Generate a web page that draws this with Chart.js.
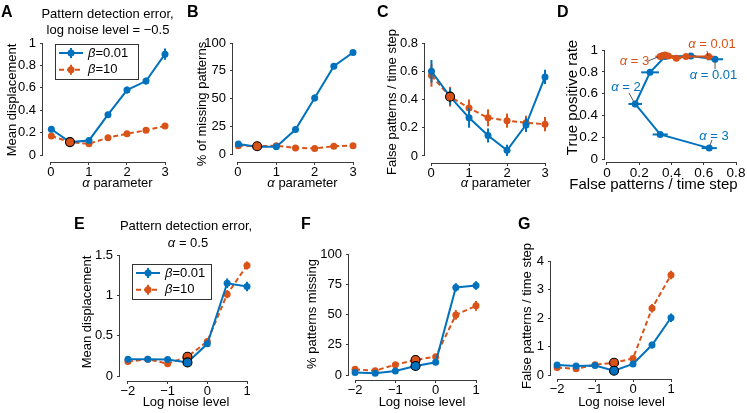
<!DOCTYPE html>
<html><head><meta charset="utf-8">
<script src="https://cdn.jsdelivr.net/npm/chart.js@4.4.1/dist/chart.umd.min.js"></script>
<style>
html,body{margin:0;padding:0;background:#fff;}
#wrap{position:relative;width:747px;height:413px;overflow:hidden;background:#fff;}
canvas{position:absolute;left:0;top:0;}
</style></head><body><div id="wrap"></div>
<script>
// ---------------- data ----------------
const alphaValues = [0.01, 0.5, 1, 1.5, 2, 2.5, 3];
const noiseLevels = [-2, -1.5, -1, -0.5, 0, 0.5, 1];
const seriesLabels = ['β=0.01', 'β=10'];

// A: mean displacement vs alpha (log noise = -0.5)
const dispBlueA = [0.23, 0.115, 0.13, 0.36, 0.58, 0.66, 0.90];
const dispBlueAErr = [0.015, 0.01, 0.015, 0.025, 0.03, 0.03, 0.05];
const dispOrangeA = [0.17, 0.115, 0.10, 0.155, 0.19, 0.22, 0.26];
const dispOrangeAErr = [0.015, 0.01, 0.01, 0.015, 0.015, 0.015, 0.015];

// B: % of missing patterns vs alpha
const missBlueB = [9, 6.5, 6.5, 22, 50.5, 79, 91.5];
const missBlueBErr = [1, 1, 1, 2.5, 3, 2.5, 1.5];
const missOrangeB = [7.5, 7, 7.5, 5.5, 5, 7, 7.5];
const missOrangeBErr = [1, 1, 1, 1, 1, 1, 1];

// C: false patterns / time step vs alpha
const falseBlueC = [0.60, 0.42, 0.27, 0.145, 0.04, 0.22, 0.56];
const falseBlueCErr = [0.08, 0.06, 0.07, 0.05, 0.04, 0.05, 0.05];
const falseOrangeC = [0.57, 0.42, 0.34, 0.27, 0.25, 0.235, 0.225];
const falseOrangeCErr = [0.08, 0.07, 0.06, 0.06, 0.05, 0.05, 0.05];

// D: true positive rate vs false patterns (parametric in alpha)
const fpBlueD = [0.67, 0.52, 0.36, 0.267, 0.175, 0.33, 0.634];
const fpBlueDErr = [0.05, 0.03, 0.03, 0.055, 0.042, 0.047, 0.047];
const tprBlueD = [0.915, 0.945, 0.94, 0.795, 0.505, 0.225, 0.10];
const tprBlueDErr = [0.01, 0.01, 0.01, 0.02, 0.03, 0.02, 0.01];
const fpOrangeD = [0.63, 0.49, 0.43, 0.38, 0.36, 0.345, 0.33];
const fpOrangeDErr = [0.03, 0.03, 0.03, 0.03, 0.03, 0.03, 0.03];
const tprOrangeD = [0.94, 0.94, 0.925, 0.945, 0.955, 0.95, 0.94];
const tprOrangeDErr = [0.01, 0.01, 0.01, 0.01, 0.01, 0.01, 0.01];

// E: mean displacement vs log noise (alpha = 0.5)
const dispBlueE = [0.21, 0.21, 0.205, 0.17, 0.40, 1.15, 1.11];
const dispBlueEErr = [0.02, 0.02, 0.02, 0.02, 0.03, 0.06, 0.06];
const dispOrangeE = [0.18, 0.21, 0.155, 0.24, 0.43, 1.015, 1.37];
const dispOrangeEErr = [0.02, 0.02, 0.02, 0.02, 0.03, 0.05, 0.05];

// F: % patterns missing vs log noise
const missBlueF = [2, 1.5, 3.3, 7.5, 10.5, 72.4, 74];
const missBlueFErr = [1, 1, 1, 1, 1.5, 3.5, 3.5];
const missOrangeF = [4.7, 3.6, 8.6, 12.4, 15.2, 49.7, 57.2];
const missOrangeFErr = [1, 1, 2, 2, 2, 4, 4];

// G: false patterns / time step vs log noise
const falseBlueG = [0.35, 0.32, 0.33, 0.15, 0.39, 1.05, 2.01];
const falseBlueGErr = [0.05, 0.04, 0.04, 0.04, 0.06, 0.12, 0.15];
const falseOrangeG = [0.26, 0.22, 0.36, 0.43, 0.58, 2.34, 3.51];
const falseOrangeGErr = [0.05, 0.05, 0.05, 0.05, 0.07, 0.15, 0.15];

// tick values
const alphaTicks = [0, 1, 2, 3];
const noiseTicks = [-2, -1, 0, 1];
const dispTicksA = [0, 0.2, 0.4, 0.6, 0.8, 1];
const pctTicks = [0, 25, 50, 75, 100];
const falseTicksC = [0, 0.2, 0.4, 0.6, 0.8];
const fpTicksD = [0, 0.2, 0.4, 0.6, 0.8];
const tprTicksD = [0, 0.2, 0.4, 0.6, 0.8, 1];
const dispTicksE = [0, 0.5, 1, 1.5];
const falseTicksG = [0, 1, 2, 3, 4];

// ---------------- style ----------------
const BLUE = '#0072BD', ORANGE = '#D95319', AXIS = '#3a3a3a';
const FONT = '"Liberation Sans", Arial, Helvetica, sans-serif';
const W = 747, H = 413, YW = 30, XH = 20;

function fmtTick(v) { return v < 0 ? '\u2212' + Math.abs(v) : String(v); }
function pts(xs, ys) { return xs.map((x, i) => ({ x: x, y: ys[i] })); }
function series(label, xs, ys, errY, errX, color, dashed, order) {
  return {
    label: label, data: pts(xs, ys), errY: errY, errX: errX,
    borderColor: color, backgroundColor: color, borderWidth: 2,
    borderDash: dashed ? [5, 3] : [], pointRadius: 3.5, pointHoverRadius: 3.5,
    pointBorderWidth: 0, pointBackgroundColor: color, tension: 0, clip: false,
    fill: false, order: order || 0
  };
}

function drawRich(ctx, segs, x, y, o) {
  if (typeof segs === 'string') segs = [[segs, 0]];
  const size = o.size || 13, weight = o.bold ? 'bold ' : '';
  const fonts = segs.map(s => (s[1] ? 'italic ' : '') + weight + size + 'px ' + FONT);
  let widths = segs.map((s, i) => { ctx.font = fonts[i]; return ctx.measureText(s[0]).width; });
  const total = widths.reduce((a, b) => a + b, 0);
  ctx.save();
  ctx.translate(x, y);
  if (o.rot) ctx.rotate(-Math.PI / 2);
  ctx.fillStyle = o.color || '#000';
  ctx.textBaseline = 'middle';
  ctx.textAlign = 'left';
  let cx = o.align === 'left' ? 0 : (o.align === 'right' ? -total : -total / 2);
  segs.forEach((s, i) => { ctx.font = fonts[i]; ctx.fillText(s[0], cx, 0); cx += widths[i]; });
  ctx.restore();
}

// ---------------- plugins ----------------
Chart.register({
  id: 'errorBars',
  beforeDatasetDraw(chart, args) {
    const ds = chart.data.datasets[args.index];
    const xs = chart.scales.x, ys = chart.scales.y, ctx = chart.ctx;
    ctx.save();
    ctx.strokeStyle = ds.borderColor; ctx.lineWidth = 2; ctx.setLineDash([]);
    ds.data.forEach((p, i) => {
      const px = xs.getPixelForValue(p.x), py = ys.getPixelForValue(p.y);
      if (ds.errY) {
        const e = ds.errY[i];
        ctx.beginPath(); ctx.moveTo(px, ys.getPixelForValue(p.y - e)); ctx.lineTo(px, ys.getPixelForValue(p.y + e)); ctx.stroke();
      }
      if (ds.errX) {
        const e = ds.errX[i];
        ctx.beginPath(); ctx.moveTo(xs.getPixelForValue(p.x - e), py); ctx.lineTo(xs.getPixelForValue(p.x + e), py); ctx.stroke();
      }
    });
    ctx.restore();
  }
});

Chart.register({
  id: 'axisLines',
  beforeDatasetsDraw(chart) {
    const P = chart.canvas.$panel, ctx = chart.ctx, ca = chart.chartArea;
    const xs = chart.scales.x, ys = chart.scales.y;
    ctx.save(); ctx.strokeStyle = AXIS; ctx.lineWidth = 1; ctx.setLineDash([]);
    const by = Math.round(ca.bottom) + 0.5, lx = Math.round(ca.left) - 0.5;
    ctx.beginPath();
    ctx.moveTo(xs.getPixelForValue(P.xt[0]), by); ctx.lineTo(xs.getPixelForValue(P.xt[P.xt.length - 1]), by);
    ctx.moveTo(lx, ys.getPixelForValue(P.yt[0])); ctx.lineTo(lx, ys.getPixelForValue(P.yt[P.yt.length - 1]));
    ctx.stroke(); ctx.restore();
  }
});

Chart.register({
  id: 'panelDecor',
  afterDatasetsDraw(chart) {
    const P = chart.canvas.$panel, ctx = chart.ctx;
    const xs = chart.scales.x, ys = chart.scales.y;
    (P.highlights || []).forEach(h => {
      const ds = chart.data.datasets[h.ds], p = ds.data[h.i];
      ctx.save(); ctx.beginPath();
      ctx.arc(xs.getPixelForValue(p.x), ys.getPixelForValue(p.y), 4.5, 0, Math.PI * 2);
      ctx.fillStyle = ds.borderColor; ctx.fill();
      ctx.lineWidth = 1.1; ctx.strokeStyle = '#000'; ctx.setLineDash([]); ctx.stroke(); ctx.restore();
    });
    (P.leaders || []).forEach(l => {
      ctx.save(); ctx.strokeStyle = '#444'; ctx.lineWidth = 0.9; ctx.beginPath();
      ctx.moveTo(xs.getPixelForValue(l[0]), ys.getPixelForValue(l[1]));
      ctx.lineTo(xs.getPixelForValue(l[2]), ys.getPixelForValue(l[3]));
      ctx.stroke(); ctx.restore();
    });
    (P.notes || []).forEach(n => {
      drawRich(ctx, n.s, xs.getPixelForValue(n.x), ys.getPixelForValue(n.y), { size: 13, color: n.color });
    });
  },
  afterDraw(chart) {
    const P = chart.canvas.$panel, ctx = chart.ctx;
    (P.texts || []).forEach(t => drawRich(ctx, t.s, t.x, t.y, t));
    if (P.legend) {
      const L = P.legend, dss = chart.data.datasets;
      ctx.save();
      ctx.fillStyle = '#fff'; ctx.fillRect(L.x, L.y, L.w, L.h);
      ctx.strokeStyle = '#333'; ctx.lineWidth = 1;
      ctx.strokeRect(Math.round(L.x) + 0.5, Math.round(L.y) + 0.5, L.w, L.h);
      [0, 1].forEach(k => {
        const ds = dss[k], ry = L.y + 9 + k * 16.7;
        ctx.strokeStyle = ds.borderColor; ctx.lineWidth = 2;
        ctx.setLineDash(ds.borderDash || []);
        ctx.beginPath(); ctx.moveTo(L.x + 4, ry); ctx.lineTo(L.x + 28, ry); ctx.stroke();
        ctx.setLineDash([]);
        ctx.beginPath(); ctx.moveTo(L.x + 16, ry - 5); ctx.lineTo(L.x + 16, ry + 5); ctx.stroke();
        ctx.beginPath(); ctx.arc(L.x + 16, ry, 3.5, 0, Math.PI * 2); ctx.fillStyle = ds.borderColor; ctx.fill();
        drawRich(ctx, [['β', 1], [ds.label.slice(1), 0]], L.x + 33, ry, { align: 'left', size: 13 });
      });
      ctx.restore();
    }
  }
});

// ---------------- panel factory ----------------
const wrap = document.getElementById('wrap');
function axisOpts(ticksArr, min, max, isY, size) {
  return {
    type: 'linear', position: isY ? 'left' : 'bottom', min: min, max: max,
    afterBuildTicks: s => { s.ticks = ticksArr.map(v => ({ value: v })); },
    afterFit: s => { if (isY) s.width = YW; else s.height = XH; },
    grid: { drawOnChartArea: false, drawTicks: true, tickLength: 3, color: AXIS, lineWidth: 1 },
    border: { display: false },
    ticks: { autoSkip: false, maxRotation: 0, minRotation: 0, padding: isY ? 4 : 0, color: '#000',
             font: { family: FONT, size: size || 13 }, callback: v => fmtTick(v) }
  };
}
function panel(P) {
  const c = document.createElement('canvas');
  c.width = W; c.height = H; c.style.width = W + 'px'; c.style.height = H + 'px';
  c.$panel = P;
  wrap.appendChild(c);
  const ca = P.ca;
  new Chart(c, {
    type: 'line',
    data: { datasets: P.datasets },
    options: {
      responsive: false, animation: false, events: [], devicePixelRatio: 1,
      layout: { padding: { left: ca[0] - YW, top: ca[1], right: W - ca[2], bottom: H - ca[3] - XH } },
      plugins: { legend: { display: false }, tooltip: { enabled: false }, title: { display: false } },
      scales: { x: axisOpts(P.xt, P.xr[0], P.xr[1], false, P.tickSize), y: axisOpts(P.yt, P.yr[0], P.yr[1], true, P.tickSize) }
    }
  });
}

const alphaTitle = [['α', 1], [' parameter', 0]];

// A
panel({
  ca: [43, 43, 165, 162], xr: [-0.21, 3], yr: [-0.0625, 1], xt: alphaTicks, yt: dispTicksA,
  datasets: [
    series(seriesLabels[0], alphaValues, dispBlueA, dispBlueAErr, null, BLUE, false),
    series(seriesLabels[1], alphaValues, dispOrangeA, dispOrangeAErr, null, ORANGE, true)
  ],
  highlights: [{ ds: 1, i: 1 }],
  legend: { x: 55, y: 44, w: 83, h: 35 },
  texts: [
    { s: 'A', x: 1, y: 12.5, size: 16, bold: true, align: 'left' },
    { s: 'Pattern detection error,', x: 107.5, y: 14 },
    { s: 'log noise level = \u22120.5', x: 108, y: 30 },
    { s: 'Mean displacement', x: 12.5, y: 100, rot: true },
    { s: alphaTitle, x: 117.5, y: 183 }
  ]
});
// B
panel({
  ca: [233, 43, 353, 162], xr: [-0.13, 3], yr: [-7.2, 100], xt: alphaTicks, yt: pctTicks,
  datasets: [
    series(seriesLabels[0], alphaValues, missBlueB, missBlueBErr, null, BLUE, false),
    series(seriesLabels[1], alphaValues, missOrangeB, missOrangeBErr, null, ORANGE, true)
  ],
  highlights: [{ ds: 1, i: 1 }],
  texts: [
    { s: 'B', x: 187, y: 12.5, size: 16, bold: true, align: 'left' },
    { s: '% of missing patterns', x: 202, y: 104, rot: true },
    { s: alphaTitle, x: 302.5, y: 183 }
  ]
});
// C
panel({
  ca: [425, 43, 545, 163], xr: [-0.16, 3], yr: [-0.05, 0.8], xt: alphaTicks, yt: falseTicksC,
  datasets: [
    series(seriesLabels[0], alphaValues, falseBlueC, falseBlueCErr, null, BLUE, false),
    series(seriesLabels[1], alphaValues, falseOrangeC, falseOrangeCErr, null, ORANGE, true)
  ],
  highlights: [{ ds: 1, i: 1 }],
  texts: [
    { s: 'C', x: 377, y: 12.5, size: 16, bold: true, align: 'left' },
    { s: 'False patterns / time step', x: 392.5, y: 102, rot: true },
    { s: alphaTitle, x: 495.8, y: 183 }
  ]
});
// D
panel({
  ca: [605, 50, 736, 162], xr: [-0.0124, 0.8], yr: [-0.0275, 1], xt: fpTicksD, yt: tprTicksD,
  tickSize: 13.5,
  datasets: [
    series(seriesLabels[0], fpBlueD, tprBlueD, tprBlueDErr, fpBlueDErr, BLUE, false, 1),
    series(seriesLabels[1], fpOrangeD, tprOrangeD, tprOrangeDErr, fpOrangeDErr, ORANGE, false, 0)
  ],
  notes: [
    { s: [['α', 1], [' = 0.01', 0]], x: 0.651, y: 1.055, color: ORANGE },
    { s: [['α', 1], [' = 3', 0]], x: 0.171, y: 0.899, color: ORANGE },
    { s: [['α', 1], [' = 0.01', 0]], x: 0.66, y: 0.77, color: BLUE },
    { s: [['α', 1], [' = 2', 0]], x: 0.118, y: 0.66, color: BLUE },
    { s: [['α', 1], [' = 3', 0]], x: 0.664, y: 0.211, color: BLUE }
  ],
  leaders: [
    [0.62, 0.99, 0.626, 0.945], [0.254, 0.899, 0.316, 0.936], [0.67, 0.826, 0.67, 0.905],
    [0.136, 0.606, 0.167, 0.523], [0.651, 0.174, 0.636, 0.115]
  ],
  texts: [
    { s: 'D', x: 557, y: 12.5, size: 16, bold: true, align: 'left' },
    { s: 'True positive rate', x: 573, y: 97.5, rot: true, size: 15 },
    { s: 'False patterns / time step', x: 653.5, y: 184.5, size: 15 }
  ]
});
// E
panel({
  ca: [120, 255, 247, 381], xr: [-2.2, 1], yr: [-0.06, 1.5], xt: noiseTicks, yt: dispTicksE,
  datasets: [
    series(seriesLabels[0], noiseLevels, dispBlueE, dispBlueEErr, null, BLUE, false),
    series(seriesLabels[1], noiseLevels, dispOrangeE, dispOrangeEErr, null, ORANGE, true)
  ],
  highlights: [{ ds: 1, i: 3 }, { ds: 0, i: 3 }],
  legend: { x: 132, y: 264, w: 79, h: 35 },
  texts: [
    { s: 'E', x: 74, y: 224.5, size: 16, bold: true, align: 'left' },
    { s: 'Pattern detection error,', x: 186, y: 226.5 },
    { s: [['α', 1], [' = 0.5', 0]], x: 188, y: 243.3 },
    { s: 'Mean displacement', x: 87.5, y: 312, rot: true },
    { s: 'Log noise level', x: 186, y: 402.5 }
  ]
});
// F
panel({
  ca: [349, 254, 476, 380], xr: [-2.15, 1], yr: [-4.1, 100], xt: noiseTicks, yt: pctTicks,
  datasets: [
    series(seriesLabels[0], noiseLevels, missBlueF, missBlueFErr, null, BLUE, false),
    series(seriesLabels[1], noiseLevels, missOrangeF, missOrangeFErr, null, ORANGE, true)
  ],
  highlights: [{ ds: 1, i: 3 }, { ds: 0, i: 3 }],
  texts: [
    { s: 'F', x: 301, y: 224.5, size: 16, bold: true, align: 'left' },
    { s: '% patterns missing', x: 312.3, y: 314, rot: true },
    { s: 'Log noise level', x: 422, y: 402 }
  ]
});
// G
panel({
  ca: [551, 261, 671, 379], xr: [-2.16, 1], yr: [-0.14, 4], xt: noiseTicks, yt: falseTicksG,
  datasets: [
    series(seriesLabels[0], noiseLevels, falseBlueG, falseBlueGErr, null, BLUE, false),
    series(seriesLabels[1], noiseLevels, falseOrangeG, falseOrangeGErr, null, ORANGE, true)
  ],
  highlights: [{ ds: 1, i: 3 }, { ds: 0, i: 3 }],
  texts: [
    { s: 'G', x: 518, y: 224.5, size: 16, bold: true, align: 'left' },
    { s: 'False patterns / time step', x: 527.5, y: 316, rot: true },
    { s: 'Log noise level', x: 621.5, y: 402 }
  ]
});
</script></body></html>
